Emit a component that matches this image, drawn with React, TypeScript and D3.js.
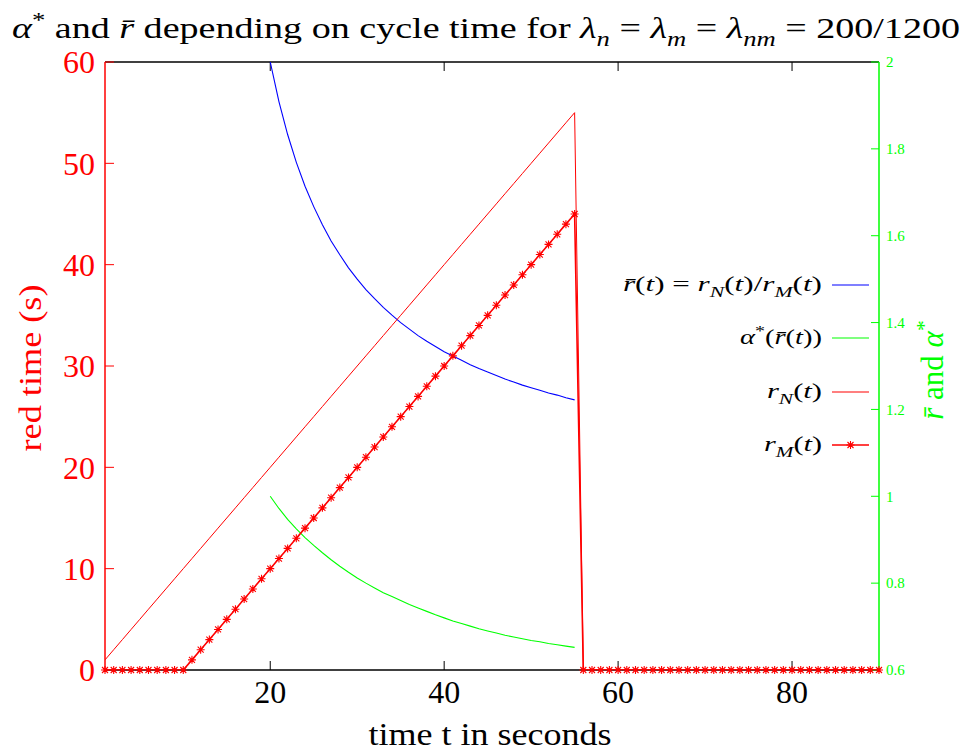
import React from 'react';
import * as d3 from 'd3';

// time in seconds (x)
const time = [
  1, 2, 3, 4, 5, 6, 7, 8, 9, 10, 11, 12, 13, 14, 15, 16, 17, 18, 19, 20,
  21, 22, 23, 24, 25, 26, 27, 28, 29, 30, 31, 32, 33, 34, 35, 36, 37, 38, 39, 40,
  41, 42, 43, 44, 45, 46, 47, 48, 49, 50, 51, 52, 53, 54, 55, 56, 57, 58, 59, 60,
  61, 62, 63, 64, 65, 66, 67, 68, 69, 70, 71, 72, 73, 74, 75, 76, 77, 78, 79, 80,
  81, 82, 83, 84, 85, 86, 87, 88, 89, 90,
];
// r_N(t) red time, left axis
const rN = [
  1, 2, 3, 4, 5, 6, 7, 8, 9, 10, 11, 12, 13, 14, 15, 16, 17, 18, 19, 20,
  21, 22, 23, 24, 25, 26, 27, 28, 29, 30, 31, 32, 33, 34, 35, 36, 37, 38, 39, 40,
  41, 42, 43, 44, 45, 46, 47, 48, 49, 50, 51, 52, 53, 54, 55, 0, 0, 0, 0, 0,
  0, 0, 0, 0, 0, 0, 0, 0, 0, 0, 0, 0, 0, 0, 0, 0, 0, 0, 0, 0,
  0, 0, 0, 0, 0, 0, 0, 0, 0, 0,
];
// r_M(t) red time, left axis
const rM = [
  0, 0, 0, 0, 0, 0, 0, 0, 0, 0, 1, 2, 3, 4, 5, 6, 7, 8, 9, 10,
  11, 12, 13, 14, 15, 16, 17, 18, 19, 20, 21, 22, 23, 24, 25, 26, 27, 28, 29, 30,
  31, 32, 33, 34, 35, 36, 37, 38, 39, 40, 41, 42, 43, 44, 45, 0, 0, 0, 0, 0,
  0, 0, 0, 0, 0, 0, 0, 0, 0, 0, 0, 0, 0, 0, 0, 0, 0, 0, 0, 0,
  0, 0, 0, 0, 0, 0, 0, 0, 0, 0,
];
// right axis series, defined for t = 20..55
const ratioTime = [
  20, 21, 22, 23, 24, 25, 26, 27, 28, 29, 30, 31, 32, 33, 34, 35, 36, 37,
  38, 39, 40, 41, 42, 43, 44, 45, 46, 47, 48, 49, 50, 51, 52, 53, 54, 55,
];
const rBar = [
  2.0, 1.909, 1.833, 1.769, 1.714, 1.667, 1.625, 1.588, 1.556, 1.526, 1.5, 1.476,
  1.455, 1.435, 1.417, 1.4, 1.385, 1.37, 1.357, 1.345, 1.333, 1.323, 1.313, 1.303,
  1.294, 1.286, 1.278, 1.27, 1.263, 1.256, 1.25, 1.244, 1.238, 1.233, 1.227, 1.222,
];
const alphaStar = [
  1.0, 0.972, 0.947, 0.925, 0.905, 0.887, 0.87, 0.854, 0.839, 0.825, 0.812, 0.8,
  0.789, 0.778, 0.769, 0.76, 0.751, 0.743, 0.735, 0.727, 0.72, 0.713, 0.707, 0.701,
  0.695, 0.69, 0.685, 0.68, 0.676, 0.672, 0.668, 0.665, 0.661, 0.658, 0.655, 0.652,
];

const xTicks = [20, 40, 60, 80];
const leftTicks = [0, 10, 20, 30, 40, 50, 60];
const rightTicks = [0.6, 0.8, 1, 1.2, 1.4, 1.6, 1.8, 2];
const rightTickLabels = ['0.6', '0.8', '1', '1.2', '1.4', '1.6', '1.8', '2'];

const RED = '#ff0000', GREEN = '#00ff00', BLUE = '#0000ff';
const FONT = "'Liberation Serif', 'Times New Roman', 'DejaVu Serif', serif";

type Piece = { t: string; i?: boolean; sub?: boolean; sup?: boolean };

// renders math-ish text pieces as tspans (italic, sub/superscripts)
function pieces(list: Piece[], size: number) {
  let shift = 0;
  return list.map((p, k) => {
    const target = p.sub ? size * 0.28 : p.sup ? -size * 0.38 : 0;
    const dy = target - shift;
    shift = target;
    return (
      <tspan key={k} dy={dy} fontStyle={p.i ? 'italic' : 'normal'}
        fontSize={p.sub || p.sup ? size * 0.7 : size}>{p.t}</tspan>
    );
  });
}

const star = (x: number, y: number, s = 4) =>
  `M${x - s},${y}H${x + s}M${x},${y - s}V${y + s}` +
  `M${x - s * 0.75},${y - s * 0.75}L${x + s * 0.75},${y + s * 0.75}` +
  `M${x - s * 0.75},${y + s * 0.75}L${x + s * 0.75},${y - s * 0.75}`;

export default function App() {
  const W = 969, H = 754;
  const left = 105, right = 879, top = 62, bottom = 670;

  const x = d3.scaleLinear().domain([1, 90]).range([left, right]);
  const yL = d3.scaleLinear().domain([0, 60]).range([bottom, top]);
  const yR = d3.scaleLinear().domain([0.6, 2]).range([bottom, top]);

  const lineL = d3.line<number>().x((_, i) => x(time[i])).y(d => yL(d));
  const lineR = d3.line<number>().x((_, i) => x(ratioTime[i])).y(d => yR(d));

  const legend = [
    { y: 285, color: BLUE, star: false, len: 199,
      text: [{ t: 'r\u0304', i: true }, { t: '(' }, { t: 't', i: true }, { t: ') = ' }, { t: 'r', i: true },
        { t: 'N', i: true, sub: true }, { t: '(' }, { t: 't', i: true }, { t: ')/' }, { t: 'r', i: true },
        { t: 'M', i: true, sub: true }, { t: '(' }, { t: 't', i: true }, { t: ')' }] as Piece[] },
    { y: 338, color: GREEN, star: false, len: 82,
      text: [{ t: '\u03b1', i: true }, { t: '*', sup: true }, { t: '(' }, { t: 'r\u0304', i: true },
        { t: '(' }, { t: 't', i: true }, { t: '))' }] as Piece[] },
    { y: 392, color: RED, star: false, len: 55,
      text: [{ t: 'r', i: true }, { t: 'N', i: true, sub: true }, { t: '(' }, { t: 't', i: true }, { t: ')' }] as Piece[] },
    { y: 445, color: RED, star: true, len: 58,
      text: [{ t: 'r', i: true }, { t: 'M', i: true, sub: true }, { t: '(' }, { t: 't', i: true }, { t: ')' }] as Piece[] },
  ];

  const title: Piece[] = [
    { t: '\u03b1', i: true }, { t: '*', sup: true }, { t: ' and ' }, { t: 'r\u0304', i: true },
    { t: ' depending on cycle time for ' },
    { t: '\u03bb', i: true }, { t: 'n', i: true, sub: true }, { t: ' = ' },
    { t: '\u03bb', i: true }, { t: 'm', i: true, sub: true }, { t: ' = ' },
    { t: '\u03bb', i: true }, { t: 'nm', i: true, sub: true }, { t: ' = 200/1200' },
  ];

  return (
    <svg width={W} height={H}
      style={{ position: 'absolute', left: 0, top: 0, background: '#fff', fontFamily: FONT }}>
      <defs>
        <clipPath id="plot">
          <rect x={left} y={top} width={right - left} height={bottom - top} />
        </clipPath>
      </defs>

      {/* title */}
      <text x={12} y={38} fontSize={30} textLength={948} lengthAdjust="spacingAndGlyphs">
        {pieces(title, 30)}
      </text>

      {/* frame */}
      <line x1={left} x2={right} y1={top} y2={top} stroke="#000" strokeWidth={1.5} />
      <line x1={left} x2={right} y1={bottom} y2={bottom} stroke="#000" strokeWidth={1.5} />
      <line x1={left} x2={left} y1={top} y2={bottom} stroke={RED} strokeWidth={1.5} />
      <line x1={right} x2={right} y1={top} y2={bottom} stroke={GREEN} strokeWidth={1.5} />

      {/* x axis */}
      {xTicks.map(t => (
        <g key={t}>
          <line x1={x(t)} x2={x(t)} y1={bottom} y2={bottom - 9} stroke="#000" />
          <line x1={x(t)} x2={x(t)} y1={top} y2={top + 9} stroke="#000" />
          <text x={x(t)} y={703} fontSize={32} textAnchor="middle">{t}</text>
        </g>
      ))}
      <text x={490} y={745} fontSize={32} textAnchor="middle" textLength={243}
        lengthAdjust="spacingAndGlyphs">time t in seconds</text>

      {/* left axis */}
      {leftTicks.map(t => (
        <g key={t}>
          <line x1={left} x2={left + 9} y1={yL(t)} y2={yL(t)} stroke={RED} />
          <text x={95} y={yL(t)} dy="0.35em" fontSize={32} textAnchor="end" fill={RED}>{t}</text>
        </g>
      ))}
      <text transform="translate(41,368) rotate(-90)" fontSize={32} textAnchor="middle" fill={RED}
        textLength={167} lengthAdjust="spacingAndGlyphs">red time (s)</text>

      {/* right axis */}
      {rightTicks.map((t, i) => (
        <g key={t}>
          <line x1={right} x2={right - 8} y1={yR(t)} y2={yR(t)} stroke={GREEN} />
          <text x={886} y={yR(t)} dy="0.35em" fontSize={15} fill={GREEN}>{rightTickLabels[i]}</text>
        </g>
      ))}
      <text transform="translate(943,370) rotate(-90)" fontSize={31} textAnchor="middle" fill={GREEN}>
        {pieces([{ t: 'r\u0304', i: true }, { t: ' and ' }, { t: '\u03b1', i: true }, { t: '*', sup: true }], 31)}
      </text>

      {/* data */}
      <g clipPath="url(#plot)" fill="none">
        <path d={lineR(rBar) ?? ''} stroke={BLUE} strokeWidth={1.1} />
        <path d={lineR(alphaStar) ?? ''} stroke={GREEN} strokeWidth={1.1} />
        <path d={lineL(rN) ?? ''} stroke={RED} strokeWidth={1} />
        <path d={lineL(rM) ?? ''} stroke={RED} strokeWidth={1.6} />
      </g>
      <path d={rM.map((v, i) => star(x(time[i]), yL(v))).join('')} stroke={RED} strokeWidth={1.1} fill="none" />

      {/* legend */}
      {legend.map((e, k) => (
        <g key={k}>
          <text x={822} y={e.y + 6} fontSize={22} textAnchor="end" textLength={e.len}
            lengthAdjust="spacingAndGlyphs">{pieces(e.text, 22)}</text>
          <line x1={832} x2={869} y1={e.y} y2={e.y} stroke={e.color} strokeWidth={e.star ? 1.6 : 1.1} />
          {e.star && <path d={star(850.5, e.y)} stroke={e.color} strokeWidth={1.1} fill="none" />}
        </g>
      ))}
    </svg>
  );
}
